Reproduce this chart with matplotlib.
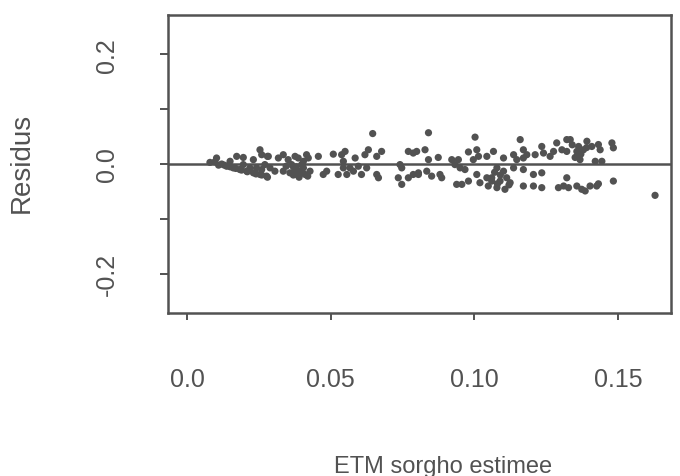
import matplotlib
matplotlib.use("Agg")
import matplotlib.pyplot as plt

# ETM estimee (x) et residus (y), lus point par point
etm = [0.0080, 0.0097, 0.0103, 0.0121, 0.0138, 0.0150, 0.0161, 0.0173, 0.0184, 0.0196,
       0.0196, 0.0208, 0.0219, 0.0231, 0.0231, 0.0242, 0.0254, 0.0254, 0.0260, 0.0260,
       0.0271, 0.0277, 0.0280,
       0.0110, 0.0130, 0.0150, 0.0170, 0.0190, 0.0210, 0.0240, 0.0260, 0.0280,
       0.0283, 0.0318, 0.0335, 0.0352, 0.0376, 0.0387, 0.0405, 0.0416, 0.0422, 0.0457,
       0.0509, 0.0538, 0.0289, 0.0306, 0.0335, 0.0358, 0.0376, 0.0382, 0.0393, 0.0405,
       0.0411, 0.0428, 0.0474, 0.0486, 0.0526, 0.0544, 0.0364, 0.0399, 0.0370, 0.0345,
       0.0380, 0.0400, 0.0420, 0.0370, 0.0390,
       0.0646, 0.0550, 0.0585, 0.0619, 0.0631, 0.0660, 0.0677, 0.0770, 0.0787, 0.0544,
       0.0567, 0.0579, 0.0596, 0.0607, 0.0625, 0.0556, 0.0660, 0.0666, 0.0741, 0.0747,
       0.0735, 0.0747, 0.0770, 0.0787, 0.0805,
       0.0840, 0.1002, 0.0828, 0.0874, 0.0979, 0.1008, 0.1014, 0.1043, 0.0799, 0.0840,
       0.0921, 0.0944, 0.0996, 0.0805, 0.0834, 0.0851, 0.0880, 0.0886, 0.0932, 0.0950,
       0.0967, 0.0938, 0.0956, 0.0979, 0.1008, 0.1019, 0.1043, 0.1048, 0.1060,
       0.1159, 0.1234, 0.1286, 0.1321, 0.1066, 0.1136, 0.1170, 0.1182, 0.1211, 0.1240,
       0.1275, 0.1304, 0.1101, 0.1147, 0.1170, 0.1263, 0.1078, 0.1101, 0.1136, 0.1170,
       0.1205, 0.1234, 0.1060, 0.1089, 0.1112, 0.1124, 0.1078, 0.1106, 0.1170, 0.1205,
       0.1234, 0.1292, 0.1310,
       0.1070, 0.1090, 0.1120, 0.1080,
       0.1333, 0.1391, 0.1431, 0.1478, 0.1483, 0.1362, 0.1356, 0.1379, 0.1408, 0.1437,
       0.1362, 0.1367, 0.1420, 0.1443, 0.1321, 0.1321, 0.1327, 0.1356, 0.1373, 0.1385,
       0.1402, 0.1425, 0.1431, 0.1483,
       0.1340, 0.1370, 0.1390, 0.1350,
       0.1628]
residus = [0.003, 0.004, 0.011, 0.000, -0.004, 0.005, -0.007, 0.014, -0.010, 0.012,
           -0.001, -0.013, -0.007, 0.008, -0.016, -0.007, 0.026, -0.019, 0.017, -0.010,
           -0.001, -0.022, 0.014,
           -0.002, -0.002, -0.005, -0.008, -0.011, -0.014, -0.018, -0.020, -0.024,
           0.014, 0.011, 0.017, 0.008, 0.014, 0.011, 0.005, 0.017, 0.011, 0.014,
           0.018, 0.017, -0.007, -0.013, -0.013, -0.016, -0.010, -0.019, -0.013, -0.007,
           -0.019, -0.013, -0.019, -0.013, -0.019, -0.007, -0.001, -0.001, -0.005, -0.004,
           -0.005, -0.016, -0.022, -0.020, -0.024,
           0.0555, 0.023, 0.011, 0.017, 0.026, 0.014, 0.023, 0.023, 0.020, 0.005,
           -0.007, -0.013, -0.004, -0.019, -0.007, -0.019, -0.019, -0.025, -0.001, -0.007,
           -0.025, -0.037, -0.025, -0.019, -0.016,
           0.057, 0.049, 0.026, 0.012, 0.022, 0.026, 0.014, 0.014, 0.023, 0.008,
           0.008, 0.008, 0.008, -0.019, -0.013, -0.022, -0.019, -0.025, -0.001, -0.007,
           -0.010, -0.037, -0.037, -0.031, -0.019, -0.034, -0.025, -0.040, -0.031,
           0.0445, 0.032, 0.0385, 0.0445, 0.023, 0.017, 0.026, 0.017, 0.017, 0.020,
           0.023, 0.026, 0.011, 0.008, 0.011, 0.014, -0.007, -0.013, -0.007, -0.010,
           -0.019, -0.016, -0.025, -0.031, -0.025, -0.034, -0.043, -0.046, -0.040, -0.040,
           -0.043, -0.043, -0.040,
           -0.015, -0.020, -0.038, -0.036,
           0.0445, 0.0415, 0.0355, 0.0385, 0.0295, 0.032, 0.023, 0.026, 0.032, 0.026,
           0.014, 0.008, 0.005, 0.005, 0.023, -0.025, -0.043, -0.040, -0.046, -0.049,
           -0.040, -0.040, -0.036, -0.031,
           0.035, 0.018, 0.030, 0.012,
           -0.057]

xticks = [0.0, 0.05, 0.10, 0.15]
xlabels = ["0.0", "0.05", "0.10", "0.15"]
yticks = [-0.2, -0.1, 0.0, 0.1, 0.2]
ylabels = ["-0.2", "", "0.0", "", "0.2"]

gris = "#525252"
plt.rcParams["font.family"] = ["Liberation Sans", "DejaVu Sans"]

fig = plt.figure(figsize=(6.8, 4.77), dpi=100)
ax = fig.add_axes([0.247, 0.342, 0.740, 0.624])

ax.scatter(etm, residus, s=27, color=gris, edgecolors="none", zorder=3)
ax.axhline(0, color=gris, lw=1.8, zorder=2)

ax.set_xlim(-0.0066, 0.1684)
ax.set_ylim(-0.271, 0.271)

ax.set_xticks(xticks)
ax.set_xticklabels(xlabels)
ax.set_yticks(yticks)
ax.set_yticklabels(ylabels, rotation=90, va="center")

ax.tick_params(axis="x", length=5, width=1.4, color=gris, pad=34,
               labelsize=18, labelcolor=gris)
ax.tick_params(axis="y", length=6, width=1.4, color=gris, pad=29,
               labelsize=18, labelcolor=gris)
for s in ax.spines.values():
    s.set_color(gris)
    s.set_linewidth(1.8)

fig.text(0.032, 0.658, "Residus", rotation=90, ha="center", va="center",
         fontsize=20, color=gris)
fig.text(0.651, 0.022, "ETM sorgho estimee", ha="center", va="center",
         fontsize=17, color=gris)

fig.savefig("out.png", dpi=100, facecolor="white")
